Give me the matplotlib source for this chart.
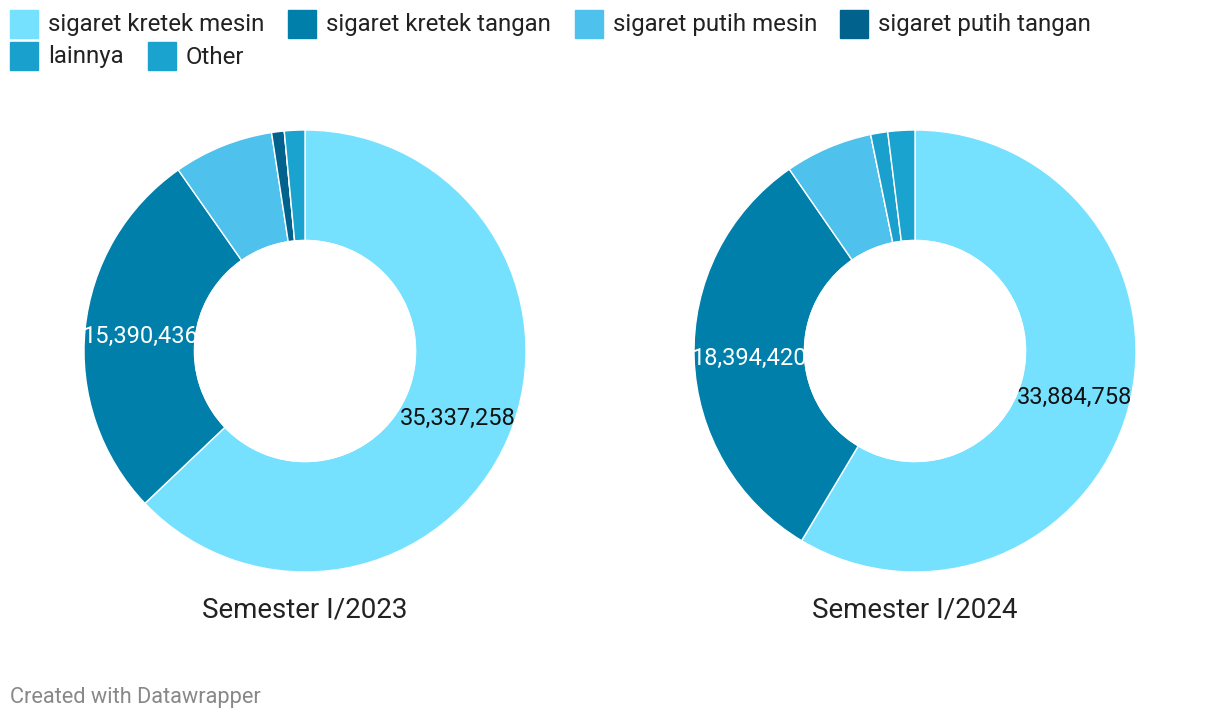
import numpy as np
import matplotlib

matplotlib.use("Agg")
import matplotlib.pyplot as plt
from matplotlib.patches import Rectangle

plt.rcParams["font.family"] = ["Roboto", "DejaVu Sans"]

# Data
categories = ["sigaret kretek mesin", "sigaret kretek tangan", "sigaret putih mesin",
              "sigaret putih tangan", "lainnya", "Other"]
colors = ["#76e1fe", "#017fab", "#4ec1ec", "#02628e", "#1aa0cd", "#1ba3d0"]
periods = ["Semester I/2023", "Semester I/2024"]
values_2023 = [35337258, 15390436, 4100000, 520000, 0, 840000]
values_2024 = [33884758, 18394420, 3710000, 0, 720000, 1140000]
labelled = [0, 1]  # slices that carry a value label
label_colors = ["#111111", "white"]

W, H = 1220, 720
fig = plt.figure(figsize=(W / 100, H / 100), dpi=100)


def draw_donut(cx, cy, values, title):
    half = 232
    ax = fig.add_axes([(cx - half) / W, (H - cy - half) / H, 2 * half / W, 2 * half / H])
    wedges, _ = ax.pie(values, colors=colors, startangle=90, counterclock=False, radius=1.0,
                       wedgeprops=dict(width=0.5, edgecolor="white", linewidth=1))
    lim = half / 221
    ax.set_xlim(-lim, lim)
    ax.set_ylim(-lim, lim)
    ax.set_aspect("equal")
    ax.axis("off")
    total = sum(values)
    start = 0.0
    for i, v in enumerate(values):
        mid = start + v / total * 360 / 2
        start += v / total * 360
        if i in labelled:
            ang = np.deg2rad(90 - mid)
            ax.text(0.751 * np.cos(ang), 0.751 * np.sin(ang) - 0.009, f"{v:,}", ha="center",
                    va="center", fontsize=17, color=label_colors[i], zorder=1)
    # donut hole drawn on top so labels are clipped by it
    ax.add_patch(plt.Circle((0, 0), 0.5, color="white", zorder=5))
    fig.text(cx / W, 1 - 610 / H, title, ha="center", va="center", fontsize=20, color="#222222")


draw_donut(305, 351, values_2023, periods[0])
draw_donut(915, 351, values_2024, periods[1])

# Legend
legend_pos = [(10, 10), (288, 10), (575, 10), (840, 10), (10, 42), (148, 42)]
for (lx, ly), name, col in zip(legend_pos, categories, colors):
    fig.patches.append(Rectangle((lx / W, 1 - (ly + 28) / H), 28 / W, 28 / H,
                                 transform=fig.transFigure, color=col))
    fig.text((lx + 38) / W, 1 - (ly + 15) / H, name, ha="left", va="center",
             fontsize=17.3, color="#222222")

fig.text(10 / W, 1 - 698 / H, "Created with Datawrapper", ha="left", va="center",
         fontsize=15.7, color="#888888")

fig.savefig("out.png", dpi=100)
